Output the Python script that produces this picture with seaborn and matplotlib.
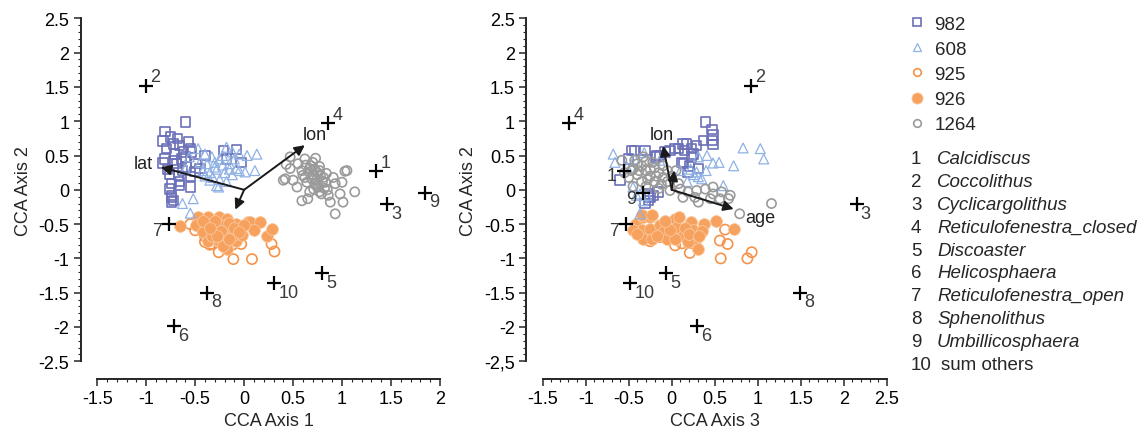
import numpy as np
import matplotlib
matplotlib.use('Agg')
import matplotlib.pyplot as plt
from matplotlib.lines import Line2D
from matplotlib.ticker import AutoMinorLocator
import seaborn as sns

# ---- site scores, panel 1 (CCA axis 1 vs axis 2) ----
s982_a1 = [(-0.60, 0.99), (-0.81, 0.85), (-0.75, 0.77), (-0.83, 0.71), (-0.72, 0.67), (-0.66, 0.65),
           (-0.57, 0.70), (-0.55, 0.60), (-0.79, 0.60), (-0.71, 0.52), (-0.62, 0.55), (-0.54, 0.55),
           (-0.40, 0.50), (-0.81, 0.45), (-0.72, 0.43), (-0.64, 0.45), (-0.83, 0.39), (-0.69, 0.38),
           (-0.59, 0.33), (-0.76, 0.23), (-0.67, 0.21), (-0.55, 0.19), (-0.74, 0.09), (-0.66, 0.06),
           (-0.55, 0.04), (-0.76, 0.01), (-0.74, -0.08), (-0.72, -0.16), (-0.49, 0.38), (-0.21, 0.57),
           (-0.08, 0.59), (-0.18, 0.45), (-0.03, 0.40), (-0.45, 0.31), (-0.66, 0.12), (-0.74, -0.11),
           (-0.74, -0.18), (-0.78, 0.30), (-0.63, 0.28), (-0.50, 0.27), (-0.68, 0.75), (-0.60, 0.48)]
s608_a1 = [(-0.47, 0.60), (-0.40, 0.52), (-0.33, 0.48), (-0.25, 0.45), (-0.18, 0.62), (-0.12, 0.55),
           (-0.05, 0.52), (0.03, 0.50), (0.13, 0.52), (-0.45, 0.40), (-0.38, 0.38), (-0.30, 0.40),
           (-0.22, 0.36), (-0.15, 0.38), (-0.08, 0.31), (0.01, 0.26), (0.11, 0.28), (-0.42, 0.28),
           (-0.35, 0.25), (-0.28, 0.30), (-0.20, 0.25), (-0.12, 0.22), (-0.05, 0.28), (-0.32, 0.18),
           (-0.25, 0.15), (-0.35, 0.14), (-0.28, 0.06), (-0.26, 0.04), (-0.18, 0.12), (-0.52, -0.13),
           (-0.63, -0.20), (-0.55, -0.34), (-0.60, 0.30), (-0.56, 0.48), (-0.10, 0.45), (-0.30, 0.33),
           (-0.22, 0.50), (-0.40, 0.20), (-0.15, 0.30)]
s925_a1 = [(-0.50, -0.59), (-0.33, -0.79), (-0.26, -0.91), (-0.11, -1.01), (0.08, -1.01), (0.28, -0.79),
           (0.31, -0.90), (-0.03, -0.79), (-0.40, -0.76), (-0.35, -0.80), (-0.45, -0.55), (-0.30, -0.60),
           (-0.20, -0.70), (-0.40, -0.68), (-0.55, -0.50), (-0.12, -0.80)]
s926_a1 = [(-0.65, -0.53), (-0.47, -0.40), (-0.37, -0.40), (-0.26, -0.40), (-0.18, -0.42), (-0.49, -0.52),
           (-0.38, -0.50), (-0.28, -0.52), (-0.20, -0.52), (-0.08, -0.50), (0.04, -0.47), (-0.04, -0.59),
           (-0.42, -0.62), (-0.32, -0.62), (-0.21, -0.64), (-0.13, -0.62), (-0.37, -0.74), (-0.26, -0.74),
           (-0.18, -0.76), (-0.08, -0.74), (-0.18, -0.86), (0.23, -0.67), (0.28, -0.57), (0.06, -0.47),
           (0.16, -0.47), (-0.30, -0.45), (-0.15, -0.48), (-0.24, -0.60), (-0.12, -0.68), (-0.02, -0.66),
           (0.10, -0.58), (-0.33, -0.68), (-0.22, -0.82), (-0.42, -0.45), (-0.10, -0.56), (0.00, -0.52),
           (-0.28, -0.68), (-0.15, -0.72), (-0.05, -0.62), (-0.35, -0.56)]
s1264_a1 = [(0.47, 0.48), (0.62, 0.45), (0.55, 0.38), (0.47, 0.31), (0.59, 0.28), (0.67, 0.31),
            (0.77, 0.28), (0.42, 0.16), (0.50, 0.14), (0.60, 0.21), (0.71, 0.21), (0.81, 0.18),
            (0.91, 0.18), (1.05, 0.28), (0.54, 0.04), (0.64, 0.11), (0.74, 0.06), (0.83, 0.11),
            (0.93, 0.09), (1.00, 0.11), (0.67, -0.03), (0.77, -0.03), (0.86, -0.08), (0.98, -0.06),
            (1.13, -0.03), (0.59, -0.16), (0.65, -0.13), (0.88, -0.18), (1.01, -0.18), (0.93, -0.35),
            (0.68, 0.35), (0.72, 0.30), (0.75, 0.25), (0.70, 0.22), (0.78, 0.20), (0.66, 0.26),
            (0.74, 0.15), (0.80, 0.12), (0.72, 0.10), (0.76, 0.04), (0.70, 0.40), (0.63, 0.36),
            (0.82, 0.02), (0.85, 0.00), (0.79, -0.06), (0.73, 0.46), (0.40, 0.14), (0.43, 0.37),
            (1.03, 0.27), (0.69, 0.16), (0.77, 0.34), (0.84, 0.24), (0.62, 0.18), (0.71, 0.01)]

# ---- site scores, panel 2 (CCA axis 3 vs axis 2) ----
s982_a3 = [(0.39, 0.99), (0.47, 0.88), (0.48, 0.80), (0.47, 0.72), (0.37, 0.72), (0.48, 0.66),
           (0.29, 0.65), (0.23, 0.60), (0.13, 0.67), (0.15, 0.57), (0.08, 0.60), (0.04, 0.60),
           (-0.14, 0.50), (-0.19, 0.48), (-0.31, 0.57), (-0.47, 0.57), (-0.43, 0.57), (-0.50, 0.45),
           (-0.08, 0.55), (0.12, 0.40), (0.23, 0.48), (0.31, 0.31), (0.19, 0.26), (-0.60, 0.14),
           (-0.27, -0.06), (-0.21, -0.08), (-0.16, -0.03), (-0.27, -0.16), (-0.31, -0.20), (-0.25, -0.11),
           (-0.17, 0.50), (-0.02, 0.57), (0.17, 0.67), (0.25, 0.52), (0.21, 0.35), (0.14, 0.38)]
s608_a3 = [(-0.68, 0.52), (-0.66, 0.40), (-0.43, 0.45), (-0.32, 0.54), (-0.14, 0.43), (0.10, 0.28),
           (0.29, 0.26), (0.31, 0.48), (0.41, 0.50), (0.48, 0.39), (0.55, 0.40), (0.72, 0.35),
           (0.83, 0.61), (1.03, 0.60), (1.07, 0.45), (0.60, 0.06), (0.31, 0.19), (-0.45, 0.04),
           (-0.37, -0.06), (-0.41, -0.08), (-0.29, -0.08), (-0.37, -0.35), (0.35, 0.16), (-0.52, 0.33),
           (0.22, 0.30), (0.26, 0.22), (0.18, 0.12), (0.40, 0.28), (-0.33, -0.16)]
s925_a3 = [(0.62, -0.58), (0.56, -0.74), (0.65, -0.79), (0.57, -1.00), (0.88, -1.00), (0.93, -0.91),
           (0.21, -0.92), (0.04, -0.81), (-0.14, -0.69), (-0.38, -0.62), (-0.25, -0.75), (0.12, -0.78)]
s926_a3 = [(-0.41, -0.50), (-0.33, -0.40), (-0.25, -0.40), (-0.35, -0.59), (-0.25, -0.57), (-0.33, -0.71),
           (-0.23, -0.71), (-0.14, -0.52), (-0.10, -0.62), (-0.06, -0.71), (0.04, -0.42), (0.06, -0.54),
           (0.13, -0.67), (0.04, -0.71), (0.23, -0.47), (0.25, -0.59), (0.37, -0.50), (0.27, -0.74),
           (0.31, -0.86), (0.19, -0.76), (0.52, -0.45), (0.72, -0.57), (-0.17, -0.67), (-0.34, -0.37),
           (-0.23, -0.37), (0.08, -0.40), (0.35, -0.60), (0.15, -0.55), (-0.02, -0.58), (-0.45, -0.58),
           (-0.08, -0.45), (0.20, -0.65), (-0.40, -0.65), (0.32, -0.68)]
s1264_a3 = [(-0.58, 0.43), (-0.43, 0.43), (-0.33, 0.48), (-0.47, 0.28), (-0.02, -0.01), (0.10, 0.01),
            (0.19, -0.03), (0.29, -0.01), (0.39, 0.01), (0.48, 0.04), (0.48, -0.06), (0.58, -0.03),
            (0.68, -0.08), (0.66, -0.13), (0.56, -0.13), (0.45, -0.13), (0.31, -0.18), (0.79, -0.35),
            (1.16, -0.20), (0.13, -0.11), (0.27, -0.11), (0.08, 0.09), (-0.45, 0.30), (-0.40, 0.22),
            (-0.35, 0.35), (-0.30, 0.28), (-0.25, 0.20), (-0.20, 0.32), (-0.15, 0.25), (-0.10, 0.18),
            (-0.05, 0.28), (-0.28, 0.15), (-0.35, 0.12), (-0.20, 0.12), (-0.12, 0.08), (-0.40, 0.38),
            (-0.22, 0.40), (-0.30, 0.42), (-0.10, 0.35), (0.00, 0.20), (-0.05, 0.12), (-0.45, 0.05),
            (-0.30, 0.05), (-0.15, 0.02), (-0.50, 0.18), (-0.55, 0.25), (0.05, 0.28), (-0.25, 0.30),
            (-0.18, 0.20), (-0.38, 0.28)]

# ---- species scores ----
species_ids = ['1', '2', '3', '4', '5', '6', '7', '8', '9', '10']
species_names = ['Calcidiscus', 'Coccolithus', 'Cyclicargolithus', 'Reticulofenestra_closed',
                 'Discoaster', 'Helicosphaera', 'Reticulofenestra_open', 'Sphenolithus',
                 'Umbillicosphaera', 'sum others']
sp_ax1 = [1.35, -1.00, 1.46, 0.86, 0.80, -0.72, -0.77, -0.38, 1.85, 0.31]
sp_ax2 = [0.27, 1.52, -0.21, 0.97, -1.22, -1.99, -0.50, -1.50, -0.04, -1.36]
sp_ax3 = [-0.56, 0.92, 2.15, -1.19, -0.07, 0.29, -0.53, 1.49, -0.33, -0.48]
lab_pos_1 = ['ur', 'ur', 'lr', 'ur', 'lr', 'lr', 'll', 'lr', 'lr', 'lr']
lab_pos_2 = ['l', 'ur', 'lr', 'ur', 'lr', 'lr', 'll', 'lr', 'll', 'lr']

# ---- environmental vectors ----
env_1 = {'lat': (-0.85, 0.33), 'lon': (0.62, 0.65), 'age': (-0.09, -0.29)}
env_2 = {'lat': (0.03, 0.28), 'lon': (-0.10, 0.64), 'age': (0.72, -0.28)}
env_lab_1 = {'lat': (-1.03, 0.39), 'lon': (0.72, 0.80)}
env_lab_2 = {'lon': (-0.12, 0.80), 'age': (1.03, -0.41)}

xticks_1 = [-1.5, -1, -0.5, 0, 0.5, 1, 1.5, 2]
xticks_2 = [-1.5, -1, -0.5, 0, 0.5, 1, 1.5, 2, 2.5]
yticks = [-2.5, -2, -1.5, -1, -0.5, 0, 0.5, 1, 1.5, 2, 2.5]
ylabels_1 = ['-2.5', '-2', '-1.5', '-1', '-0.5', '0', '0.5', '1', '1.5', '2', '2.5']
ylabels_2 = ['-2,5', '-2', '-1.5', '-1', '-0.5', '0', '0.5', '1', '1.5', '2', '2.5']

sites = ['982', '608', '925', '926', '1264']
site_style = {
    '982':  dict(marker='s', s=46, facecolor='none', edgecolor='#6b70b9', linewidth=1.2),
    '608':  dict(marker='^', s=50, facecolor='none', edgecolor='#8fb1e4', linewidth=0.9),
    '925':  dict(marker='o', s=54, facecolor='none', edgecolor='#f5934a', linewidth=1.2),
    '926':  dict(marker='o', s=72, facecolor='#f7a15f', edgecolor='#fbc89c', linewidth=0.6),
    '1264': dict(marker='o', s=44, facecolor='none', edgecolor='#9a9a9a', linewidth=1.2),
}
legend_ms = {'982': 5.5, '608': 5.5, '925': 5.5, '926': 8.0, '1264': 5.5}

sns.set_theme(style='ticks')
plt.rcParams['font.family'] = ['Liberation Sans', 'DejaVu Sans']
plt.rcParams['axes.unicode_minus'] = False

fig = plt.figure(figsize=(11.43, 4.31), dpi=100)
ax1 = fig.add_axes([0.0851, 0.1594, 0.2998, 0.7958])
ax2 = fig.add_axes([0.4748, 0.1594, 0.3010, 0.7958])

panels = [
    (ax1, {'982': s982_a1, '608': s608_a1, '925': s925_a1, '926': s926_a1, '1264': s1264_a1},
     sp_ax1, lab_pos_1, env_1, env_lab_1, xticks_1, ylabels_1, 'CCA Axis 1'),
    (ax2, {'982': s982_a3, '608': s608_a3, '925': s925_a3, '926': s926_a3, '1264': s1264_a3},
     sp_ax3, lab_pos_2, env_2, env_lab_2, xticks_2, ylabels_2, 'CCA Axis 3'),
]

offsets = {'ur': (3, 6.5, 'left'), 'lr': (3, -6.5, 'left'),
           'll': (-5, -4.5, 'right'), 'l': (-5, -3, 'right')}

for ax, data, spx, labpos, env, envlab, xt, ylab, xlabel in panels:
    for site in ['925', '926', '982', '608', '1264']:
        pts = np.array(data[site])
        sns.scatterplot(x=pts[:, 0], y=pts[:, 1], ax=ax, legend=False, zorder=2,
                        **site_style[site])

    # environmental arrows
    for name, (ex, ey) in env.items():
        ax.annotate('', xy=(ex, ey), xytext=(0, 0), zorder=4,
                    arrowprops=dict(arrowstyle='-|>', color='#1a1a1a', lw=1.4,
                                    mutation_scale=15, shrinkA=0, shrinkB=0))
    for name, (tx, ty) in envlab.items():
        ax.text(tx, ty, name, ha='center', va='center', fontsize=13, color='#222222', zorder=5)

    # species crosses
    sns.scatterplot(x=spx, y=sp_ax2, ax=ax, marker='+', s=90, color='black',
                    linewidth=1.6, legend=False, zorder=5)
    for sid, x, y, p in zip(species_ids, spx, sp_ax2, labpos):
        dx, dy, ha = offsets[p]
        ax.annotate(sid, (x, y), xytext=(dx, dy), textcoords='offset points',
                    ha=ha, va='center', fontsize=13, color='#3a3a3a', zorder=5)

    ax.set_xlim(xt[0], xt[-1])
    ax.set_ylim(-2.5, 2.5)
    ax.set_xticks(xt)
    ax.set_xticklabels([f'{v:g}' for v in xt])
    ax.set_yticks(yticks)
    ax.set_yticklabels(ylab)
    ax.xaxis.set_minor_locator(AutoMinorLocator(5))
    ax.yaxis.set_minor_locator(AutoMinorLocator(5))
    ax.tick_params(which='major', length=5, width=1.1, labelsize=13, pad=3, labelcolor='black')
    ax.tick_params(which='minor', length=2.5, width=0.8)
    ax.set_xlabel(xlabel, fontsize=13, labelpad=3)
    ax.set_ylabel('CCA Axis 2', fontsize=13, labelpad=5)
    sns.despine(ax=ax, offset={'left': 12, 'bottom': 13})
    for sp in ['left', 'bottom']:
        ax.spines[sp].set_linewidth(1.4)

# legend for sites
handles = []
for site in sites:
    st = site_style[site]
    handles.append(Line2D([], [], linestyle='none', marker=st['marker'],
                          markersize=legend_ms[site],
                          markerfacecolor=st['facecolor'], markeredgecolor=st['edgecolor'],
                          markeredgewidth=st['linewidth']))
fig.legend(handles, sites, loc='upper left', bbox_to_anchor=(0.7955, 0.962),
           frameon=False, fontsize=13.5, handlelength=0.8, handletextpad=0.55,
           labelspacing=0.43, borderpad=0, borderaxespad=0)

# species list
W, H = 1143, 431
for i, (sid, name) in enumerate(zip(species_ids, species_names)):
    yc = 1 - (160 + 22.8 * i) / H
    fig.text(911 / W, yc, sid, ha='left', va='center', fontsize=13.5)
    if sid == '10':
        fig.text(941 / W, yc, name, ha='left', va='center', fontsize=13.5)
    else:
        fig.text(937 / W, yc, name, ha='left', va='center', fontsize=13.5, style='italic')

fig.savefig('out.png', dpi=100)
